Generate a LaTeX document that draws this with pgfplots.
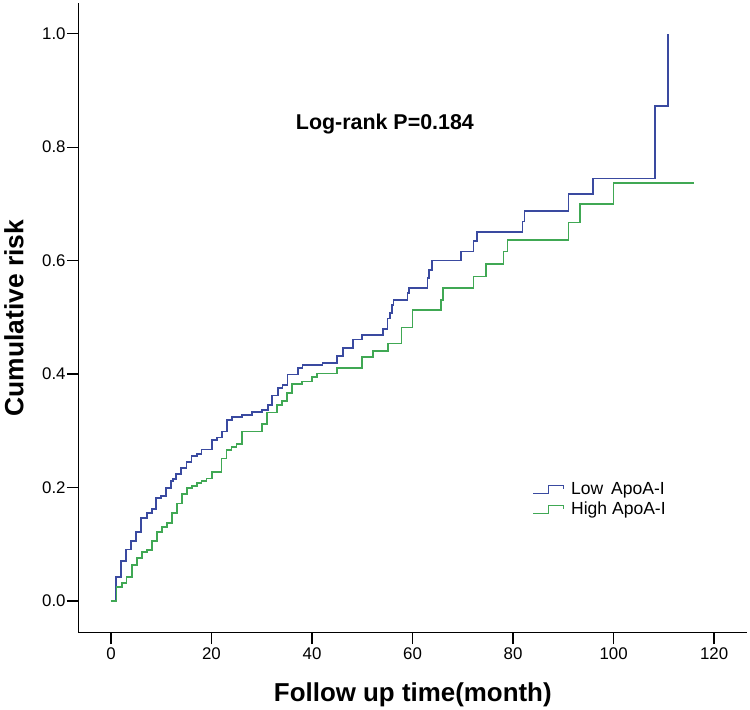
\documentclass[border=0pt]{standalone}
\usepackage{fontspec}
\setmainfont{Liberation Sans}
\usepackage{pgfplots}
\pgfplotsset{compat=1.18}
\definecolor{kmblue}{RGB}{58,74,160}
\definecolor{kmgreen}{RGB}{64,168,84}

\begin{document}
\begin{tikzpicture}
\path[use as bounding box] (-78.3bp,-77.3bp) rectangle (671.7bp,632.7bp);
\begin{axis}[
  at={(0,0)}, anchor=south west,
  scale only axis,
  width=669bp, height=629.4bp,
  xmin=-6.5, xmax=126.6,
  ymin=-0.0559, ymax=1.0536,
  axis x line*=bottom, axis y line*=left,
  axis line style={line width=1bp, black},
  xtick={0,20,40,60,80,100,120},
  ytick={0,0.2,0.4,0.6,0.8,1.0},
  yticklabel style={/pgf/number format/fixed, /pgf/number format/precision=1, /pgf/number format/fixed zerofill},
  tick align=outside,
  major tick length=11.5bp,
  tick style={line width=1.3bp, black},
  /pgf/number format/assume math mode=true,
  ticklabel style={font=\fontsize{16.9}{20}\selectfont},
  xticklabel style={inner sep=0pt, yshift=-3.7bp},
  yticklabel style={inner sep=0pt, xshift=-1bp},
  xlabel={Follow up time(month)},
  ylabel={Cumulative risk},
  every axis x label/.style={at={(axis description cs:0.5,-0.1096)}, anchor=base, inner sep=0pt, font=\bfseries\fontsize{26}{30}\selectfont},
  every axis y label/.style={at={(axis description cs:-0.0822,0.5)}, anchor=base, rotate=90, inner sep=0pt, font=\bfseries\fontsize{26.5}{30}\selectfont},
  legend style={at={(0.679,0.2400)}, anchor=north west, draw=none, fill=none, inner sep=0pt, outer sep=0pt,
    font=\fontsize{17.6}{20}\selectfont,
    nodes={inner sep=0pt, text height=12.5bp, text depth=3.5bp},
    row sep=4bp, column sep=6.7bp},
  legend cell align=left,
  legend image code/.code={\draw[#1, line width=1.3bp] (0bp,-4.2bp) -- (15.3bp,-4.2bp) -- (15.3bp,4.1bp) -- (30.6bp,4.1bp) -- (30.6bp,0.8bp);},
  clip=false,
]
\addplot[const plot, kmblue, line width=1.7bp] coordinates {
(0,0) (1.0,0.042) (2.0,0.071) (3.0,0.091) (4.0,0.106) (5.0,0.122) (6.0,0.146)
(7.1,0.155) (8.1,0.162) (9.0,0.181) (10.0,0.185) (11.0,0.199) (12.0,0.212)
(12.4,0.215) (12.9,0.224) (14.0,0.234) (15.0,0.245) (16.0,0.255) (17.1,0.259)
(18.0,0.267) (20.1,0.284) (21.1,0.288) (22.1,0.299) (23.1,0.319) (24.1,0.324)
(26.1,0.328) (28.1,0.333) (30.1,0.337) (31.2,0.346) (32.1,0.362) (33.2,0.375)
(34.1,0.381) (35.1,0.399) (37.2,0.411) (38.1,0.416) (42.1,0.419) (45.0,0.432)
(46.1,0.446) (48.1,0.461) (50.0,0.469) (54.1,0.479) (55.0,0.498) (55.5,0.508)
(55.9,0.522) (56.2,0.530) (59.0,0.543) (59.3,0.552) (63.0,0.569) (63.3,0.583)
(63.8,0.600) (69.6,0.616) (72.1,0.635) (72.8,0.651) (81.9,0.669) (82.3,0.688)
(91.0,0.717) (95.9,0.745) (108.3,0.872) (110.8,1.0)
};
\addlegendentry{Low\hspace{3bp} ApoA-I}
\addplot[const plot, kmgreen, line width=1.7bp] coordinates {
(0,0) (1.1,0.025) (2.2,0.032) (3.1,0.042) (4.2,0.064) (5.2,0.076) (6.2,0.086)
(7.2,0.090) (8.1,0.106) (9.1,0.122) (10.1,0.131) (11.1,0.137) (12.1,0.155)
(13.1,0.172) (14.1,0.188) (15.1,0.199) (16.1,0.203) (17.1,0.208) (18.0,0.212)
(19.0,0.216) (20.1,0.227) (22.0,0.251) (23.0,0.266) (24.0,0.272) (25.0,0.277)
(26.0,0.299) (30.0,0.312) (31.0,0.332) (33.0,0.345) (34.0,0.353) (35.0,0.367)
(36.0,0.382) (38.0,0.387) (40.0,0.395) (41.0,0.401) (45.0,0.411) (50.0,0.430)
(52.1,0.441) (55.1,0.454) (57.8,0.482) (60.0,0.513) (65.6,0.531) (66.0,0.552)
(72.1,0.572) (74.6,0.594) (78.1,0.616) (78.9,0.636) (91.0,0.667) (93.3,0.700)
(100.0,0.737) (115.9,0.737)
};
\addlegendentry{High ApoA-I}
\node[anchor=base, font=\bfseries\fontsize{21.5}{25}\selectfont] at (axis cs:54.5,0.832) {Log-rank P=0.184};
\end{axis}
\end{tikzpicture}
\end{document}
